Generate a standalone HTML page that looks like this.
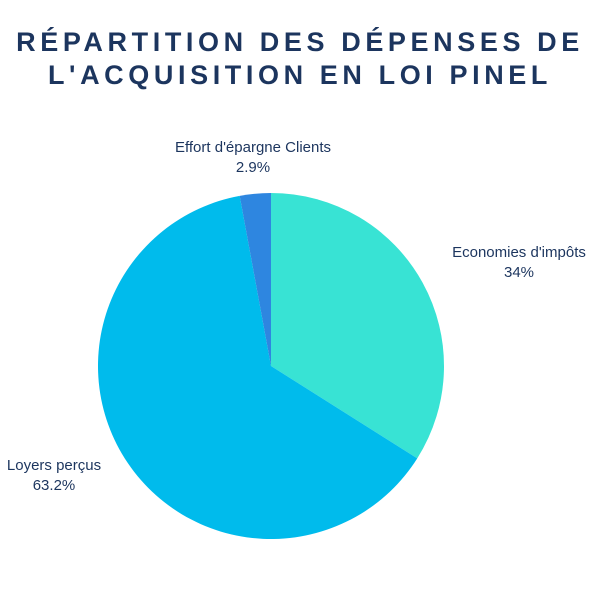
<!DOCTYPE html>
<html><head><meta charset="utf-8">
<style>
body{margin:0;width:600px;height:600px;background:#fff;overflow:hidden;font-family:"Liberation Sans",sans-serif;}
#title{position:absolute;top:26px;left:0;width:600px;text-align:center;font-weight:bold;font-size:27px;letter-spacing:4.6px;line-height:33px;color:#1c355e;}
svg{position:absolute;left:0;top:0;}
</style></head>
<body>
<div id="title">RÉPARTITION DES DÉPENSES DE<br>L'ACQUISITION EN LOI PINEL</div>
<svg id="chart" width="600" height="600"></svg>
<script>
const categories=["Economies d'impôts","Loyers perçus","Effort d'épargne Clients"];
const values=[34,63.2,2.9];
const labels=["34%","63.2%","2.9%"];
const colors=["#38e3d4","#00bbec","#2e86e0"];
const labelPos=[[519,257],[54,470],[253,152]];
const cx=271,cy=366,r=173;
const svg=document.getElementById('chart');
const NS='http://www.w3.org/2000/svg';
const total=values.reduce((a,b)=>a+b,0);
let a0=-Math.PI/2;
values.forEach((v,i)=>{
  const a1=a0+v/total*2*Math.PI;
  const x0=cx+r*Math.cos(a0),y0=cy+r*Math.sin(a0),x1=cx+r*Math.cos(a1),y1=cy+r*Math.sin(a1);
  const p=document.createElementNS(NS,'path');
  p.setAttribute('d',`M${cx},${cy}L${x0},${y0}A${r},${r} 0 ${a1-a0>Math.PI?1:0} 1 ${x1},${y1}Z`);
  p.setAttribute('fill',colors[i]);
  
  
  svg.appendChild(p);
  a0=a1;
  const [lx,ly]=labelPos[i];
  [categories[i],labels[i]].forEach((t,j)=>{
    const tx=document.createElementNS(NS,'text');
    tx.setAttribute('x',lx);tx.setAttribute('y',ly+j*20);
    tx.setAttribute('text-anchor','middle');tx.setAttribute('font-size','15');
    tx.setAttribute('fill','#1c355e');tx.setAttribute('font-family','Liberation Sans, sans-serif');
    
    
    tx.textContent=t;svg.appendChild(tx);
  });
});
</script>
</body></html>
